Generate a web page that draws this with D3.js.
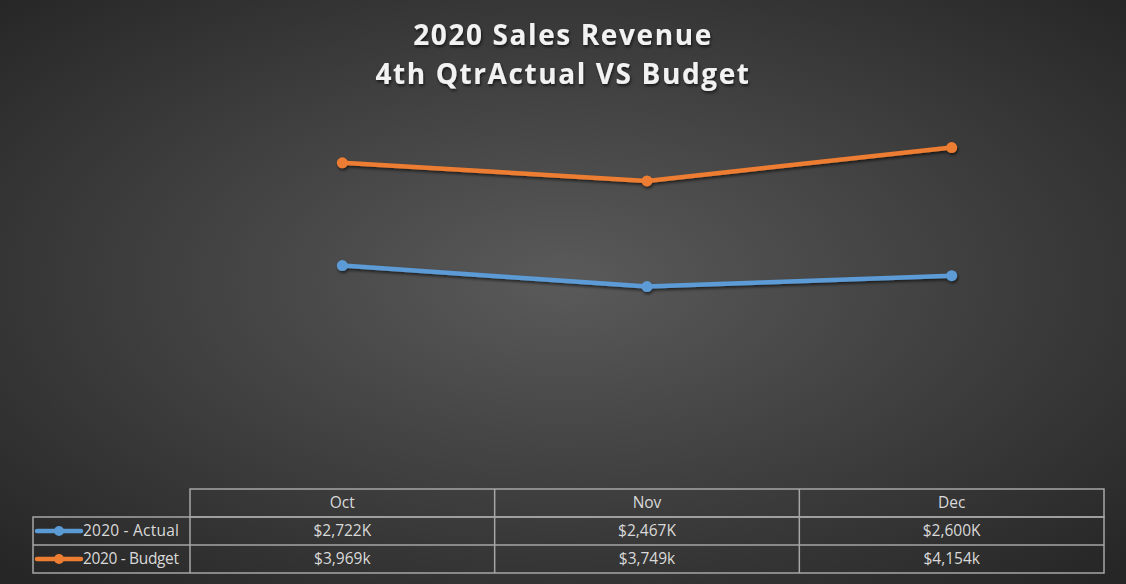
<!DOCTYPE html>
<html>
<head>
<meta charset="utf-8">
<script src="https://cdn.jsdelivr.net/npm/d3@7"></script>
<style>
  html, body { margin: 0; padding: 0; background: #2a2a2a; }
  svg { display: block; }
  .title { font-family: "Open Sans", sans-serif; font-weight: 700; font-size: 28px; fill: #f2f2f2; letter-spacing: 1.6px; }
  .cell { font-family: "Open Sans", "Liberation Sans", sans-serif; font-size: 15.5px; fill: #d9d9d9; }
</style>
</head>
<body>
<div id="chart"></div>
<script>
// chart data
const months = ["Oct", "Nov", "Dec"];
const actual = [2722, 2467, 2600];
const budget = [3969, 3749, 4154];
const actualLabels = ["$2,722K", "$2,467K", "$2,600K"];
const budgetLabels = ["$3,969k", "$3,749k", "$4,154k"];
const seriesNames = ["2020 - Actual", "2020 - Budget"];
const seriesColors = ["#5b9bd5", "#ed7d31"];
const titleLines = ["2020 Sales Revenue", "4th QtrActual VS Budget"];

const W = 1126, H = 584;
const tableLeft = 33, tableX0 = 190, tableX1 = 1104;
const rowY = [489, 517, 545, 573];

const svg = d3.select("#chart").append("svg")
  .attr("width", W).attr("height", H);

const defs = svg.append("defs");
const grad = defs.append("radialGradient")
  .attr("id", "bg").attr("cx", "50%").attr("cy", "48%").attr("r", "70%");
grad.append("stop").attr("offset", "0%").attr("stop-color", "#5a5a5a");
grad.append("stop").attr("offset", "100%").attr("stop-color", "#262626");

const shadow = defs.append("filter").attr("id", "shadow")
  .attr("x", "-10%").attr("y", "-10%").attr("width", "130%").attr("height", "150%");
shadow.append("feDropShadow").attr("dx", 1).attr("dy", 2).attr("stdDeviation", 1.5)
  .attr("flood-color", "#000").attr("flood-opacity", 0.6);

svg.append("rect").attr("width", W).attr("height", H).attr("fill", "url(#bg)");

// title
svg.selectAll("text.title").data(titleLines).enter().append("text")
  .attr("class", "title")
  .attr("x", 563)
  .attr("y", (d, i) => 45 + i * 39)
  .attr("text-anchor", "middle")
  .attr("filter", "url(#shadow)")
  .text(d => d);

// scales
const x = d3.scaleBand().domain(months).range([tableX0, tableX1]);
const y = d3.scaleLinear().domain([0, 4500]).range([490, 119]);

const line = d3.line()
  .x((d, i) => x(months[i]) + x.bandwidth() / 2)
  .y(d => y(d));

const series = [actual, budget];
const g = svg.append("g").attr("filter", "url(#shadow)");
series.forEach((vals, s) => {
  g.append("path")
    .datum(vals)
    .attr("d", line)
    .attr("fill", "none")
    .attr("stroke", seriesColors[s])
    .attr("stroke-width", 4.5)
    .attr("stroke-linejoin", "round");
  g.selectAll(".pt" + s).data(vals).enter().append("circle")
    .attr("cx", (d, i) => x(months[i]) + x.bandwidth() / 2)
    .attr("cy", d => y(d))
    .attr("r", 5.5)
    .attr("fill", seriesColors[s]);
});

// data table
const tbl = svg.append("g").attr("stroke", "#a6a6a6").attr("stroke-width", 1.5).attr("fill", "none");
// header row
tbl.append("rect").attr("x", tableX0).attr("y", rowY[0]).attr("width", tableX1 - tableX0).attr("height", rowY[1] - rowY[0]);
// body rows
tbl.append("rect").attr("x", tableLeft).attr("y", rowY[1]).attr("width", tableX1 - tableLeft).attr("height", rowY[3] - rowY[1]);
tbl.append("line").attr("x1", tableLeft).attr("x2", tableX1).attr("y1", rowY[2]).attr("y2", rowY[2]);
tbl.append("line").attr("x1", tableX0).attr("x2", tableX0).attr("y1", rowY[1]).attr("y2", rowY[3]);
months.slice(1).forEach(m => {
  tbl.append("line").attr("x1", x(m)).attr("x2", x(m)).attr("y1", rowY[0]).attr("y2", rowY[3]);
});

// header text
svg.selectAll("text.hdr").data(months).enter().append("text")
  .attr("class", "cell")
  .attr("x", d => x(d) + x.bandwidth() / 2)
  .attr("y", (rowY[0] + rowY[1]) / 2 + 5)
  .attr("text-anchor", "middle")
  .text(d => d);

[actualLabels, budgetLabels].forEach((labels, s) => {
  const cy = (rowY[s + 1] + rowY[s + 2]) / 2;
  svg.selectAll("text.v" + s).data(labels).enter().append("text")
    .attr("class", "cell")
    .attr("x", (d, i) => x(months[i]) + x.bandwidth() / 2)
    .attr("y", cy + 5)
    .attr("text-anchor", "middle")
    .text(d => d);
  // legend key
  svg.append("line")
    .attr("x1", 37).attr("x2", 81).attr("y1", cy).attr("y2", cy)
    .attr("stroke", seriesColors[s]).attr("stroke-width", 4.5).attr("stroke-linecap", "round");
  svg.append("circle").attr("cx", 59).attr("cy", cy).attr("r", 5).attr("fill", seriesColors[s]);
  svg.append("text")
    .attr("class", "cell")
    .attr("x", 83).attr("y", cy + 5)
    .attr("textLength", 96)
    .text(seriesNames[s]);
});
</script>
</body>
</html>
